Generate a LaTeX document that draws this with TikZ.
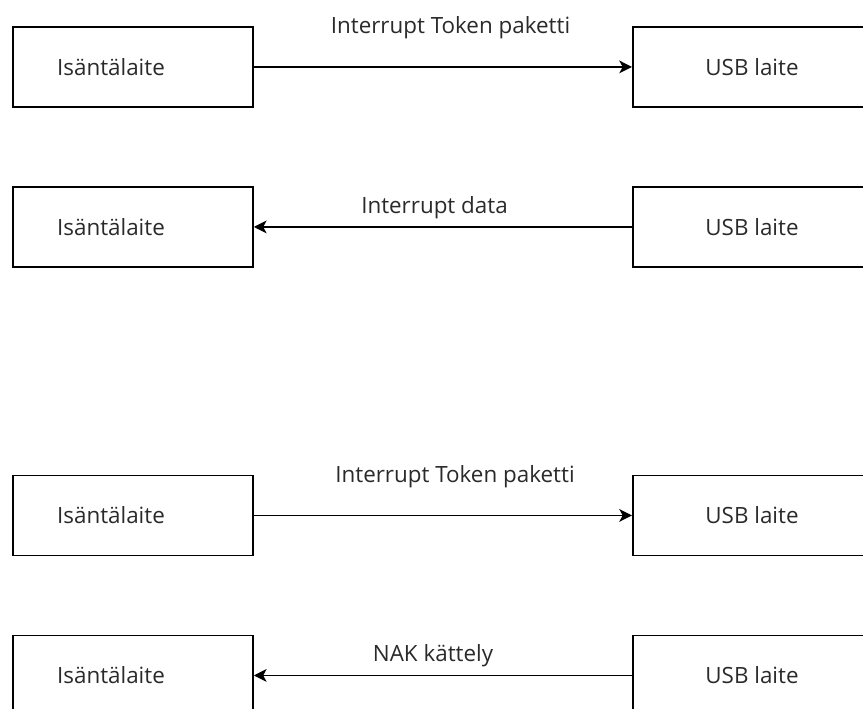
\documentclass[tikz,border=0pt]{standalone}
\usepackage{fontspec}
\setmainfont{Open Sans}
\usetikzlibrary{arrows.meta}
\definecolor{txt}{HTML}{2A2A2A}
\tikzset{
  devbox/.style={draw=black, line width=1.4pt, minimum width=180pt, minimum height=60pt, inner sep=0pt, anchor=north west},
  boxtext/.style={text=txt, font=\fontsize{16.8pt}{20pt}\selectfont, inner sep=0pt},
  msgtext/.style={text=txt, font=\fontsize{16.8pt}{20pt}\selectfont, inner sep=0pt},
  msg/.style={draw=black, line width=1.4pt, -{Stealth[length=9.5pt, width=9.5pt, inset=2.5pt]}}
}
\begin{document}
\begin{tikzpicture}[x=0.75pt, y=-0.75pt]
\useasboundingbox (0,0) rectangle (863,709);
\clip (0,0) rectangle (863,709);
% row 1
\node[devbox] (h1) at (12,26) {};
\node[devbox] (u1) at (632,26) {};
\node[boxtext] (h1t) at (111,67) {Isäntälaite};
\node[boxtext] (u1t) at (752,67) {USB laite};
\draw[msg] (h1.east) -- (u1.west);
\node[msgtext] (m1) at (450.5,28) {Interrupt Token paketti};
% row 2
\node[devbox] (h2) at (12,186) {};
\node[devbox] (u2) at (632,186) {};
\node[boxtext] (h2t) at (111,227) {Isäntälaite};
\node[boxtext] (u2t) at (752,227) {USB laite};
\draw[msg] (u2.west) -- (h2.east);
\node[msgtext] (m2) at (434.5,208) {Interrupt data};
% row 3
\node[devbox] (h3) at (12,474.5) {};
\node[devbox] (u3) at (632,474.5) {};
\node[boxtext] (h3t) at (111,515.5) {Isäntälaite};
\node[boxtext] (u3t) at (752,515.5) {USB laite};
\draw[msg] (h3.east) -- (u3.west);
\node[msgtext] (m3) at (455,476.5) {Interrupt Token paketti};
% row 4
\node[devbox] (h4) at (12,634.5) {};
\node[devbox] (u4) at (632,634.5) {};
\node[boxtext] (h4t) at (111,675.5) {Isäntälaite};
\node[boxtext] (u4t) at (752,675.5) {USB laite};
\draw[msg] (u4.west) -- (h4.east);
\node[msgtext] (m4) at (433,656) {NAK kättely};
\end{tikzpicture}
\end{document}
